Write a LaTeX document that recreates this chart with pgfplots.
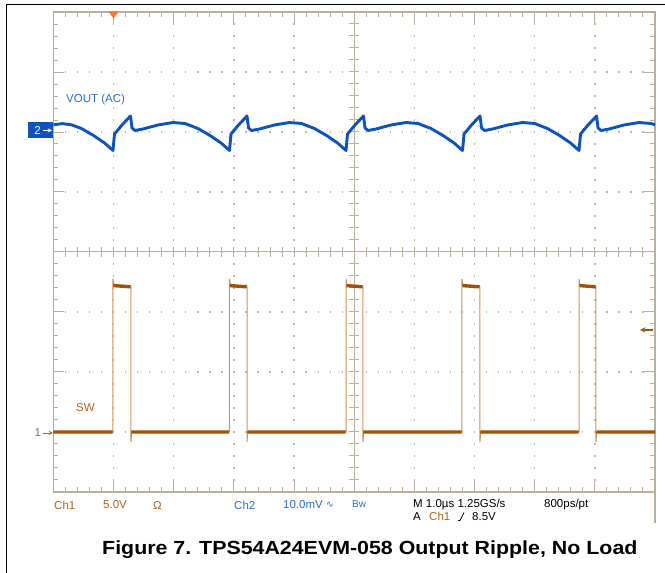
\documentclass[border=0pt]{standalone}
\usepackage{pgfplots}
\pgfplotsset{compat=1.18}
\usepackage{graphicx}
\usepackage{fontspec}
\setmainfont{Liberation Sans}
\newfontfamily\djv{DejaVu Sans}
\definecolor{gridc}{RGB}{184,176,156}
\definecolor{dotc}{RGB}{192,186,170}
\definecolor{chb}{RGB}{14,82,188}
\definecolor{cho}{RGB}{160,82,4}
\definecolor{chol}{RGB}{204,146,90}
\definecolor{txto}{RGB}{178,98,30}
\definecolor{txtb}{RGB}{40,110,210}
\definecolor{trig}{RGB}{255,112,40}
\begin{document}
\begin{tikzpicture}[x=1pt,y=1pt]
\path[use as bounding box] (0,0) rectangle (665,573);
% centre lines with ticks (drawn below the traces)
\draw[gridc, line width=1pt] (354.25,81) -- (354.25,561);
\draw[gridc, line width=1pt] (53.5,321) -- (655,321);
\foreach \i in {1,...,39} \draw[gridc, line width=1pt] (349.25,{81+12*\i}) -- (359.25,{81+12*\i});
\foreach \i in {1,...,49} \draw[gridc, line width=1pt] ({53.5+12.03*\i},316) -- ({53.5+12.03*\i},326);
\begin{axis}[at={(53.5pt,81pt)}, anchor=south west, scale only axis,
  width=601.5pt, height=480pt,
  xmin=0, xmax=10, ymin=-4, ymax=4,
  xtick={0,...,10}, ytick={-4,...,4},
  minor x tick num=4, minor y tick num=4,
  xticklabels={}, yticklabels={},
  tick align=inside, major tick length=11pt, minor tick length=5pt,
  tick style={draw=gridc, line width=1pt},
  axis line style={draw=gridc, line width=1.2pt},
  grid=major,
  major x grid style={dotc, line width=1.3pt, dash pattern=on 1.3pt off 10.7pt, dash phase=0.65pt},
  major y grid style={dotc, line width=1.3pt, dash pattern=on 1.3pt off 10.73pt, dash phase=0.65pt},
  unbounded coords=jump,
]
% Ch2: VOUT (AC)
\addplot[chb, line width=2.9pt, line join=round] coordinates {
(0,2.12)(0.15,2.14)(0.30,2.12)(0.465,2.058)(0.665,1.942)(0.848,1.817)
(0.989,1.692)(1.014,1.967)(1.139,2.117)(1.280,2.267)(1.305,2.067)(1.355,2.025)(1.488,2.050)(1.737,2.117)(1.987,2.158)(2.186,2.142)(2.402,2.058)(2.602,1.942)(2.785,1.817)
(2.926,1.692)(2.951,1.967)(3.076,2.117)(3.217,2.267)(3.242,2.067)(3.292,2.025)(3.425,2.050)(3.674,2.117)(3.924,2.158)(4.123,2.142)(4.339,2.058)(4.539,1.942)(4.722,1.817)
(4.863,1.692)(4.888,1.967)(5.013,2.117)(5.154,2.267)(5.179,2.067)(5.229,2.025)(5.362,2.050)(5.611,2.117)(5.861,2.158)(6.060,2.142)(6.276,2.058)(6.476,1.942)(6.659,1.817)
(6.800,1.692)(6.825,1.967)(6.950,2.117)(7.091,2.267)(7.116,2.067)(7.166,2.025)(7.299,2.050)(7.548,2.117)(7.798,2.158)(7.997,2.142)(8.213,2.058)(8.413,1.942)(8.596,1.817)
(8.737,1.692)(8.762,1.967)(8.887,2.117)(9.028,2.267)(9.053,2.067)(9.103,2.025)(9.236,2.050)(9.485,2.117)(9.735,2.158)(9.934,2.142)(10,2.12)
};
% Ch1: SW, edges (thin)
\addplot[chol, line width=1pt] coordinates {
(0,-3)(0.989,-3)(0.989,-0.45)(1.005,-0.55)(1.288,-0.58)(1.288,-3.17)(1.30,-3)
(2.926,-3)(2.926,-0.45)(2.942,-0.55)(3.217,-0.58)(3.217,-3.17)(3.229,-3)
(4.863,-3)(4.863,-0.45)(4.879,-0.55)(5.145,-0.58)(5.145,-3.17)(5.157,-3)
(6.791,-3)(6.791,-0.45)(6.807,-0.55)(7.090,-0.58)(7.090,-3.17)(7.102,-3)
(8.737,-3)(8.737,-0.45)(8.753,-0.55)(9.018,-0.58)(9.018,-3.17)(9.030,-3)(10,-3)
};
% Ch1: SW, flat levels (thick)
\addplot[cho, line width=3.4pt] coordinates {
(0,-3)(0.982,-3)(0.985,nan)(0.996,-0.56)(1.283,-0.58)(1.285,nan)
(1.296,-3)(2.920,-3)(2.922,nan)(2.933,-0.56)(3.212,-0.58)(3.214,nan)
(3.225,-3)(4.857,-3)(4.860,nan)(4.870,-0.56)(5.140,-0.58)(5.142,nan)
(5.153,-3)(6.785,-3)(6.788,nan)(6.798,-0.56)(7.085,-0.58)(7.087,nan)
(7.098,-3)(8.731,-3)(8.734,nan)(8.744,-0.56)(9.013,-0.58)(9.015,nan)
(9.026,-3)(10,-3)
};
\end{axis}
% frame
\draw[black, line width=1.6pt] (6.5,0) -- (6.5,568.3) -- (665,568.3);
\draw[gridc, line width=1.2pt] (655,81) -- (655,50);
% trigger position marker
\fill[trig] (108.6,561.5) -- (118.6,561.5) -- (113.6,554.5) -- cycle;
% trigger level marker
\draw[cho, line width=1.4pt, -stealth] (653,243) -- (640,243);
% channel markers
\fill[chb] (28.3,434.7) rectangle (53.3,450.7);
\node[white, inner sep=0, font=\fontsize{11.5}{12}\selectfont] at (37.5,442.5) {2};
\draw[white, line width=0.9pt, -stealth] (43,442.5) -- (52,442.5);
\node[txto, inner sep=0, font=\fontsize{11.5}{12}\selectfont] at (37.7,140) {1};
\draw[txto, line width=0.9pt, -stealth] (43,140) -- (53,140);
% trace labels
\node[anchor=west, inner sep=0, txtb, font=\fontsize{11.5}{12}\selectfont] at (66,473) {VOUT (AC)};
\node[anchor=west, inner sep=0, txto, font=\fontsize{11.5}{12}\selectfont] at (76,165) {SW};
% readout
\begin{scope}[every node/.style={anchor=west, inner sep=0, font=\fontsize{11.5}{12}\selectfont}]
\node[txto] at (54,68) {Ch1};
\node[txto] at (103,68) {5.0V};
\node[txto] at (153,68) {Ω};
\node[txtb] at (234,68) {Ch2};
\node[txtb] at (283,68) {10.0mV};
\node[txtb] at (326,68) {\djv\fontsize{9}{10}\selectfont ∿};
\node[txtb] at (352,69) {\fontsize{10}{11}\selectfont Bw};
\node[black] at (413,68) {M 1.0µs 1.25GS/s};
\node[black] at (544,68) {800ps/pt};
\node[black] at (413,56.5) {A};
\node[txto] at (429,56.5) {Ch1};
\node[black] at (472,56.5) {8.5V};
\end{scope}
\draw[black, line width=0.8pt] (458,52.5) -- (460,52.5) -- (464,60.5);
% caption
\node[anchor=base west, inner sep=0, font=\bfseries\fontsize{19}{22}\selectfont] at (102,18) {\scalebox{1.125}[1]{Figure 7. TPS54A24EVM-058 Output Ripple, No Load}};
\end{tikzpicture}
\end{document}
